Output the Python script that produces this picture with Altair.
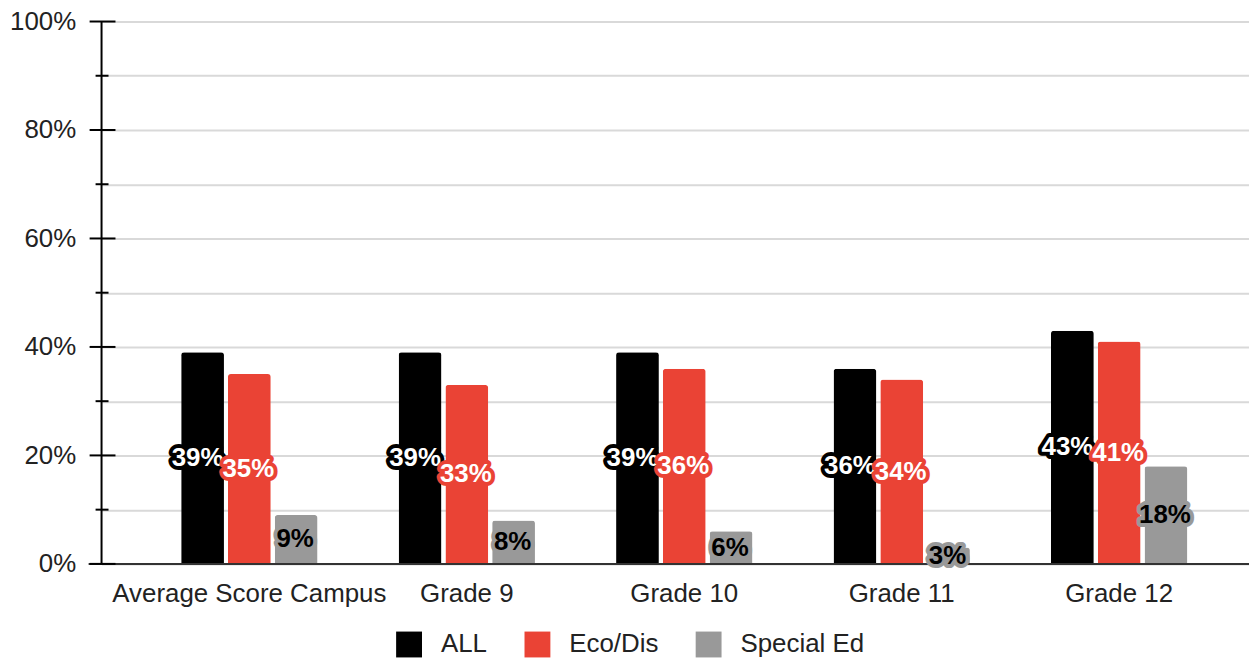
import altair as alt
import pandas as pd

categories = ["Average Score Campus", "Grade 9", "Grade 10", "Grade 11", "Grade 12"]
series_names = ["ALL", "Eco/Dis", "Special Ed"]
series_colors = ["#000000", "#EA4335", "#999999"]
label_fills = ["#ffffff", "#ffffff", "#000000"]
label_dx = [-5, -1, -1]
all_vals = [39, 39, 39, 36, 43]
eco_vals = [35, 33, 36, 34, 41]
sped_vals = [9, 8, 6, 3, 18]
y_major = [0, 20, 40, 60, 80, 100]
y_minor = [10, 30, 50, 70, 90]
y_grid = [0, 10, 20, 30, 40, 50, 60, 70, 80, 90, 100]

rows = []
for name, vals in zip(series_names, [all_vals, eco_vals, sped_vals]):
    for c, v in zip(categories, vals):
        rows.append({"category": c, "series": name, "value": v})
df = pd.DataFrame(rows)

W, H = 1153, 545
FONT = "Liberation Sans"

x_enc = alt.X(
    "category:N", sort=categories,
    scale=alt.Scale(paddingInner=0, paddingOuter=0.1384, align=0.649),
    axis=alt.Axis(title=None, labelFontSize=26, labelColor="#222222", labelFont=FONT,
                  ticks=False, domain=False, labelPadding=17, labelAngle=0, grid=False,
                  labelLimit=500),
)
xoff = alt.XOffset("series:N", sort=series_names,
                   scale=alt.Scale(paddingInner=0.085, paddingOuter=0.867))
y_scale = alt.Scale(domain=[0, 100], nice=False, zero=True)
y_axis = alt.Axis(
    title=None, values=y_grid,
    labelExpr="datum.value % 20 == 0 ? datum.value + '%' : ''",
    ticks=False, domain=False, grid=True, gridColor="#d9d9d9", gridWidth=2,
    labelFontSize=26, labelColor="#222222", labelFont=FONT, labelPadding=26,
    labelOverlap=False, labelFlush=False,
)

bars = alt.Chart(df).mark_bar(cornerRadiusTopLeft=3, cornerRadiusTopRight=3).encode(
    x=x_enc, xOffset=xoff,
    y=alt.Y("value:Q", scale=y_scale, axis=y_axis),
    color=alt.Color(
        "series:N", sort=series_names,
        scale=alt.Scale(domain=series_names, range=series_colors),
        legend=alt.Legend(title=None, orient="none", legendX=296, legendY=613,
                          direction="horizontal", symbolType="square", symbolSize=676,
                          symbolStrokeWidth=0, labelFontSize=26, labelFont=FONT,
                          labelColor="#222222", labelOffset=19, columnPadding=37, padding=0),
    ),
)

one = pd.DataFrame({"value": [0]})
baseline = alt.Chart(one).mark_rule(color="#333333", strokeWidth=2).encode(
    y=alt.value(H), x=alt.value(-13), x2=alt.value(W))
axis_line = alt.Chart(one).mark_rule(color="#000000", strokeWidth=2).encode(
    x=alt.value(0), y=alt.value(0), y2=alt.value(H))
major = alt.Chart(pd.DataFrame({"value": y_major})).mark_rule(color="#000000", strokeWidth=2).encode(
    y=alt.Y("value:Q", scale=y_scale, title=None), x=alt.value(-12), x2=alt.value(14))
minor = alt.Chart(pd.DataFrame({"value": y_minor})).mark_rule(color="#000000", strokeWidth=2).encode(
    y=alt.Y("value:Q", scale=y_scale, title=None), x=alt.value(-6), x2=alt.value(7))

label_layers = []
for name, col, fill, dx in zip(series_names, series_colors, label_fills, label_dx):
    base = alt.Chart(df).transform_filter(alt.datum.series == name).transform_calculate(
        mid="datum.value / 2", label="datum.value + '%'")
    enc = dict(x=x_enc, xOffset=xoff,
               y=alt.Y("mid:Q", scale=y_scale, title=None), text="label:N")
    outline = base.mark_text(font=FONT, fontWeight="bold", fontSize=26, stroke=col,
                             strokeWidth=8, strokeJoin="round", fill=col, dx=dx,
                             align="center", baseline="middle").encode(**enc)
    front = base.mark_text(font=FONT, fontWeight="bold", fontSize=26, fill=fill, dx=dx,
                           align="center", baseline="middle").encode(**enc)
    label_layers += [outline, front]

chart = alt.layer(bars, baseline, axis_line, major, minor, *label_layers).properties(
    width=W, height=H,
    autosize=alt.AutoSizeParams(type="none"),
    padding={"left": 94, "top": 12, "right": 0, "bottom": 96},
).configure_view(strokeWidth=0)

chart.save("out.html", embed_options={"renderer": "svg", "actions": False})
